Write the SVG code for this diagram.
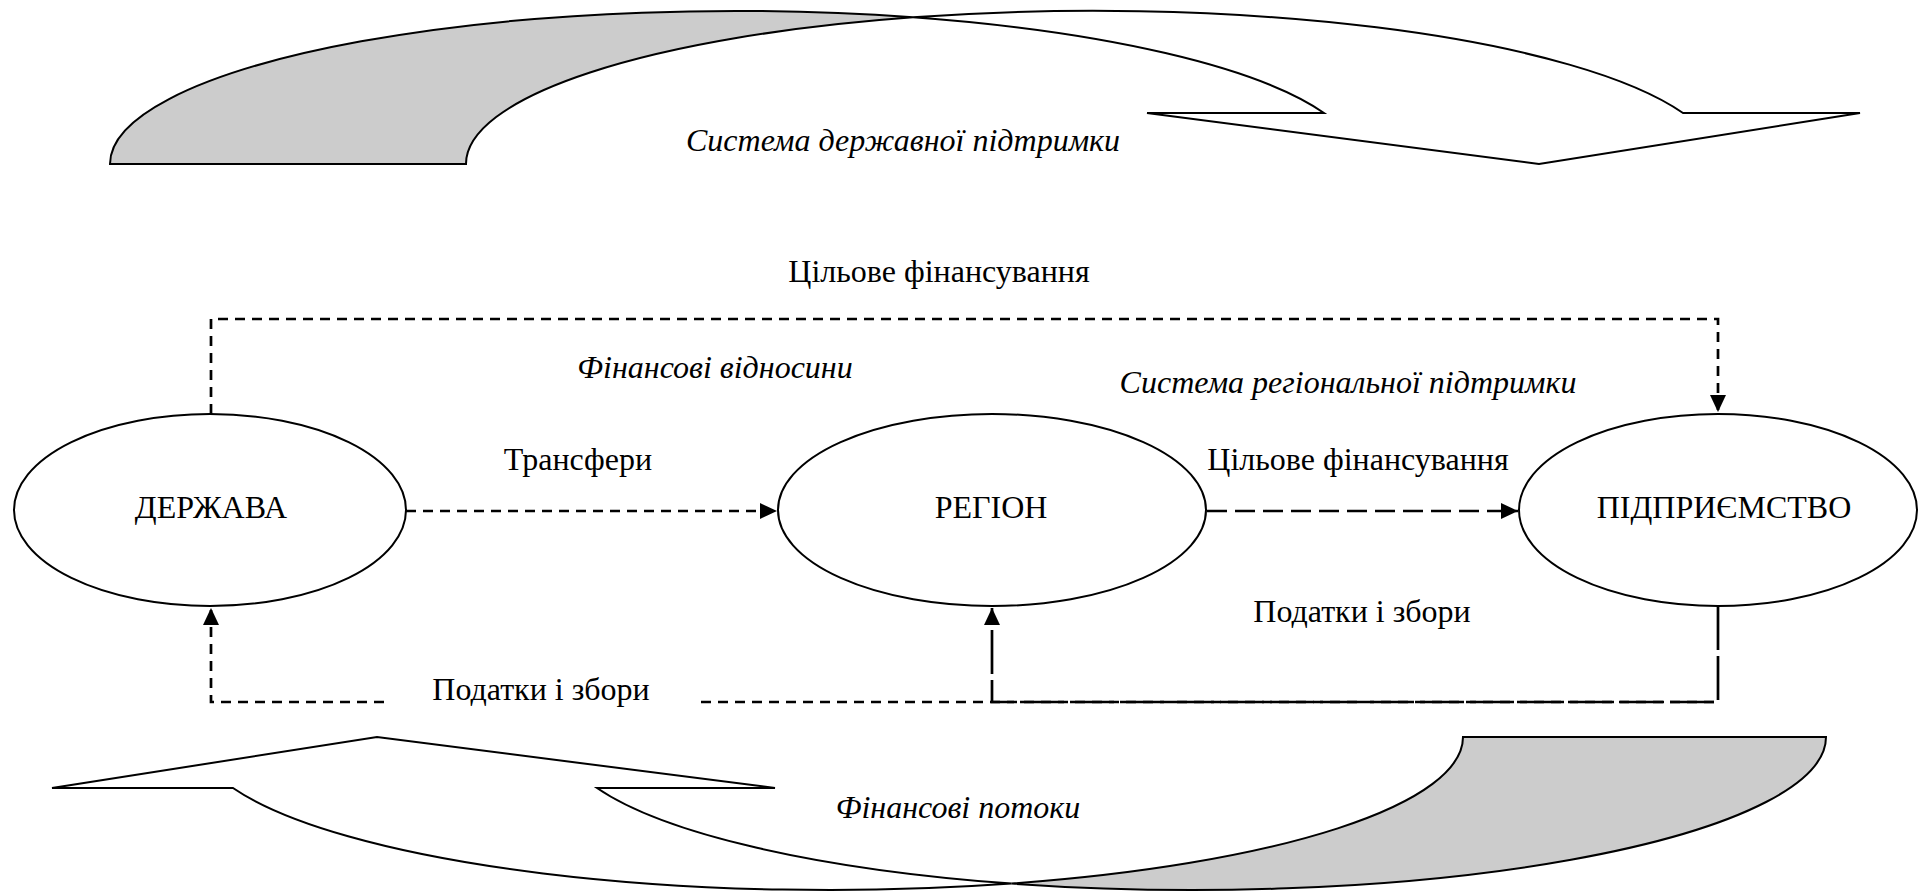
<svg xmlns="http://www.w3.org/2000/svg" width="1919" height="892" viewBox="0 0 1919 892">
  <style>
    .node { fill: #ffffff; stroke: #000000; stroke-width: 2; }
    .lbl { font-family: "Liberation Serif", "Times New Roman", serif; font-size: 32px; fill: #000000; text-anchor: middle; }
    .it { font-style: italic; }
    .band-back { fill: #cccccc; stroke: #000000; stroke-width: 2; stroke-linejoin: miter; }
    .band-front { fill: #ffffff; stroke: #000000; stroke-width: 2; stroke-linejoin: miter; }
    .edge { fill: none; stroke: #000000; stroke-width: 2.7; }
    .short { stroke-dasharray: 10 7; }
    .long { stroke-dasharray: 20 8; }
    .longer { stroke-dasharray: 44 6; }
  </style>
  <defs>
    <marker id="arrow" markerUnits="userSpaceOnUse" markerWidth="18" markerHeight="16" refX="17" refY="8" orient="auto">
      <path d="M0,0 L17,8 L0,16 Z" fill="#000000"/>
    </marker>
  </defs>

  <rect width="1919" height="892" fill="#ffffff"/>

  <!-- Curved arrow across the top: state support system -->
  <g id="state-support-arrow">
    <path class="band-back" d="M110,164 A625,153 0 0 1 913,17.3 A625,153 0 0 0 466,164 Z"/>
    <path class="band-front" d="M913,17.3 A625,153 0 0 1 1683,113 L1860,113 L1539,164 L1147,113 L1324,113 A625,153 0 0 0 913,17.3 Z"/>
    <text class="lbl it" x="903" y="151">Система державної підтримки</text>
  </g>

  <!-- Curved arrow across the bottom: financial flows -->
  <g id="financial-flows-arrow">
    <path class="band-back" d="M1826,737 A633,153 0 0 1 1011.5,883.6 A633,153 0 0 0 1463,737 Z"/>
    <path class="band-front" d="M1011.5,883.6 A633,153 0 0 1 233,788 L52,788 L377,737 L775,788 L597,788 A633,153 0 0 0 1011.5,883.6 Z"/>
    <text class="lbl it" x="958" y="818">Фінансові потоки</text>
  </g>

  <!-- Connectors -->
  <g id="connectors">
    <!-- state to enterprise: targeted funding -->
    <path class="edge short" d="M211,414 V319 H1718 V412" marker-end="url(#arrow)"/>
    <!-- state to region: transfers -->
    <path class="edge short" d="M406,511 H777" marker-end="url(#arrow)"/>
    <!-- region to enterprise: targeted funding -->
    <path class="edge long" d="M1207,511 H1518" marker-end="url(#arrow)"/>
    <!-- taxes and fees back to the state -->
    <path class="edge short" d="M384,702 H211 V608" marker-end="url(#arrow)"/>
    <path class="edge short" d="M701,702 H1718"/>
    <!-- taxes and fees back to the region -->
    <path class="edge longer" d="M1718,606 V702 H992 V608" marker-end="url(#arrow)"/>
  </g>

  <!-- Connector labels -->
  <g id="labels">
    <text class="lbl" x="939" y="282">Цільове фінансування</text>
    <text class="lbl it" x="715" y="378">Фінансові відносини</text>
    <text class="lbl it" x="1348" y="393">Система регіональної підтримки</text>
    <text class="lbl" x="578" y="470">Трансфери</text>
    <text class="lbl" x="1358" y="470">Цільове фінансування</text>
    <text class="lbl" x="1362" y="622">Податки і збори</text>
    <text class="lbl" x="541" y="700">Податки і збори</text>
  </g>

  <!-- Nodes -->
  <g id="node-state">
    <ellipse class="node" cx="210" cy="510" rx="196" ry="96"/>
    <text class="lbl" x="211" y="518">ДЕРЖАВА</text>
  </g>
  <g id="node-region">
    <ellipse class="node" cx="992" cy="510" rx="214" ry="96"/>
    <text class="lbl" x="991" y="518">РЕГІОН</text>
  </g>
  <g id="node-enterprise">
    <ellipse class="node" cx="1718" cy="510" rx="199" ry="96"/>
    <text class="lbl" x="1724" y="518">ПІДПРИЄМСТВО</text>
  </g>
</svg>
